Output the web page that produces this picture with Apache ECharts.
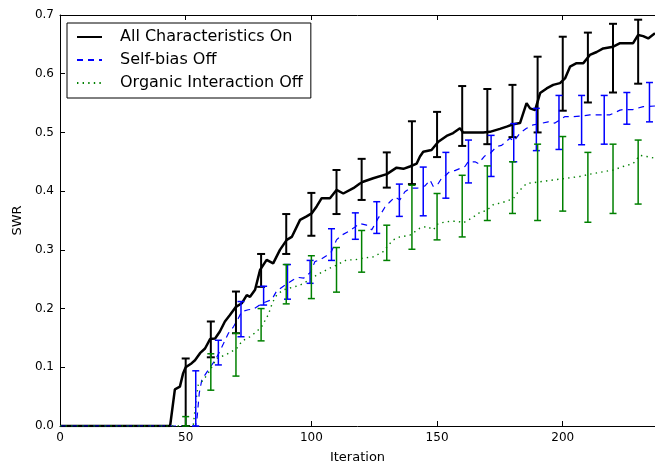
<!DOCTYPE html>
<html>
<head>
<meta charset="utf-8">
<script src="https://cdn.jsdelivr.net/npm/echarts@6/dist/echarts.min.js"></script>
<style>
html,body{margin:0;padding:0;background:#fff;}
#chart{width:655px;height:466px;}
</style>
</head>
<body>
<div id="chart"></div>
<script>
// ---- data ----
const seriesNames = ['All Characteristics On', 'Self-bias Off', 'Organic Interaction Off'];
const xTicks = [0, 50, 100, 150, 200];
const yTicks = [0.0, 0.1, 0.2, 0.3, 0.4, 0.5, 0.6, 0.7];

const allOn = [[0,0],[43.8,0],[45.7,0.0625],[47.7,0.067],[49,0.09],[50,0.10],[52.4,0.107],[53.7,0.112],[55.7,0.124],[57.7,0.132],[59.7,0.148],[61.7,0.149],[63.6,0.161],[65.6,0.178],[67.6,0.189],[70,0.203],[72.3,0.209],[74.3,0.223],[75.6,0.220],[77.6,0.232],[79.6,0.266],[82.2,0.283],[84.8,0.277],[87.5,0.30],[90.2,0.317],[92.2,0.322],[95.5,0.351],[98.1,0.357],[100.1,0.362],[102.1,0.374],[104.1,0.388],[107.4,0.388],[110,0.402],[112.7,0.396],[116.7,0.405],[119.3,0.413],[120.6,0.416],[124.6,0.422],[130,0.429],[133.9,0.44],[136.6,0.438],[139.2,0.442],[141.9,0.447],[143.2,0.459],[144.5,0.467],[147.8,0.47],[150.5,0.484],[153.8,0.494],[156.4,0.499],[159.1,0.507],[160.4,0.50],[168.4,0.5],[171,0.501],[175,0.506],[177.7,0.51],[180.3,0.514],[183,0.516],[185.6,0.55],[187,0.541],[189,0.538],[191,0.567],[193.6,0.575],[196.2,0.581],[198.9,0.584],[200.9,0.592],[202.9,0.612],[205.5,0.618],[208.2,0.618],[210.8,0.632],[213.5,0.637],[216.1,0.643],[220.1,0.646],[222.8,0.652],[228,0.652],[230,0.666],[232,0.664],[234,0.66],[236.7,0.669]];

const selfBiasOff = [[0,0],[53.8,0],[54.4,0.007],[55.4,0.056],[56.4,0.078],[57.7,0.087],[59.7,0.10],[61.7,0.112],[63.3,0.125],[65,0.14],[67,0.158],[69,0.169],[70.9,0.183],[72.3,0.195],[74.9,0.198],[76.9,0.199],[79,0.205],[81,0.21],[84.2,0.215],[86.2,0.23],[89.5,0.24],[92.8,0.249],[94.8,0.253],[97,0.252],[99.7,0.262],[101.4,0.28],[103.4,0.283],[106,0.29],[108,0.297],[110,0.317],[112,0.325],[114.7,0.331],[117.7,0.34],[119.3,0.345],[122,0.342],[124,0.334],[126.6,0.354],[129.3,0.373],[131.3,0.382],[133.3,0.39],[135.2,0.385],[137.2,0.399],[139.2,0.405],[142,0.405],[145.2,0.409],[147.2,0.419],[148.5,0.408],[150.5,0.413],[151.8,0.422],[153.5,0.427],[155.1,0.434],[157.1,0.435],[161.1,0.442],[162.4,0.45],[165.1,0.45],[166.4,0.447],[169,0.46],[171.3,0.465],[173.7,0.476],[175.7,0.478],[179,0.49],[180.6,0.485],[183,0.499],[185.6,0.507],[188.3,0.513],[191,0.515],[194.2,0.518],[196.9,0.516],[200.9,0.527],[204.2,0.527],[208,0.528],[210.8,0.53],[213.5,0.53],[218.8,0.53],[222.8,0.538],[224,0.539],[228,0.539],[232,0.544],[236.7,0.545]];

const organicOff = [[0,0],[53,0],[54,0.04],[55,0.07],[57,0.078],[59.7,0.095],[62.3,0.115],[66.3,0.122],[70.3,0.132],[72.5,0.145],[75.6,0.152],[78,0.16],[80.2,0.169],[82.9,0.19],[84.5,0.21],[86.2,0.223],[88.8,0.232],[91.5,0.235],[95.5,0.24],[99.4,0.249],[102.1,0.257],[104.7,0.263],[107.4,0.269],[110,0.274],[114,0.283],[117.3,0.283],[120.6,0.286],[124.6,0.288],[128.6,0.297],[130.6,0.308],[132.6,0.317],[135.2,0.322],[139.2,0.325],[143.2,0.337],[145.9,0.34],[148.5,0.334],[150.5,0.345],[153.8,0.348],[157.8,0.349],[160.4,0.346],[163.8,0.354],[167.1,0.364],[169.7,0.367],[172.4,0.377],[176.3,0.381],[180.3,0.387],[182.3,0.399],[185.6,0.413],[191,0.416],[196.2,0.419],[201.6,0.422],[206.8,0.425],[210.8,0.429],[216.1,0.433],[220.1,0.436],[224,0.442],[228,0.447],[230.7,0.461],[233.4,0.459],[236.7,0.456]];

// error bars: [x, low, high]
const allOnErr = [[50,0,0.115],[60,0.117,0.178],[70,0.158,0.229],[80,0.237,0.293],[90,0.293,0.361],[100,0.324,0.397],[110,0.361,0.436],[120,0.385,0.455],[130,0.406,0.466],[140,0.412,0.519],[150,0.458,0.535],[160,0.477,0.579],[170,0.480,0.574],[180,0.492,0.581],[190,0.50,0.629],[200,0.537,0.663],[210,0.551,0.670],[220,0.568,0.685],[230,0.583,0.692]];
const selfBiasErr = [[54,0,0.094],[63,0.104,0.146],[72,0.152,0.212],[81,0.206,0.238],[90.5,0.216,0.275],[99.5,0.243,0.282],[108,0.282,0.336],[117.5,0.318,0.363],[126,0.328,0.382],[135,0.357,0.412],[144.5,0.358,0.441],[153.5,0.388,0.466],[162.5,0.414,0.487],[171.5,0.425,0.495],[180.5,0.45,0.515],[189.5,0.469,0.541],[198.5,0.471,0.563],[207.5,0.479,0.563],[216.5,0.48,0.563],[225.5,0.514,0.568],[234.5,0.518,0.585]];
const organicErr = [[50,0,0.016],[60,0.061,0.123],[70,0.085,0.158],[80,0.145,0.200],[90,0.208,0.275],[100,0.217,0.29],[110,0.228,0.304],[120,0.262,0.333],[130,0.282,0.342],[140,0.301,0.41],[150,0.317,0.396],[160,0.322,0.427],[170,0.35,0.443],[180,0.362,0.45],[190,0.35,0.48],[200,0.366,0.493],[210,0.347,0.466],[220,0.362,0.48],[230,0.378,0.487]];

// ---- chart ----
const FONT = 'DejaVu Sans';
const chart = echarts.init(document.getElementById('chart'), null, {renderer: 'canvas'});

function errRender(color, lw, capHalf) {
  return function (params, api) {
    const x = api.value(0), lo = api.value(1), hi = api.value(2);
    const a = api.coord([x, lo]), b = api.coord([x, hi]);
    const st = {stroke: color, lineWidth: lw};
    return {
      type: 'group',
      children: [
        {type: 'line', shape: {x1: a[0], y1: a[1], x2: b[0], y2: b[1]}, style: st},
        {type: 'line', shape: {x1: a[0] - capHalf, y1: a[1], x2: a[0] + capHalf, y2: a[1]}, style: st},
        {type: 'line', shape: {x1: b[0] - capHalf, y1: b[1], x2: b[0] + capHalf, y2: b[1]}, style: st}
      ]
    };
  };
}

const XMAX = 236.7;
const axisCommon = {
  axisLine: {show: true, lineStyle: {color: '#000', width: 1}},
  axisTick: {show: true, inside: true, length: 5, lineStyle: {color: '#000'}},
  splitLine: {show: false}
};

const option = {
  backgroundColor: '#fff',
  animation: false,
  textStyle: {fontFamily: FONT},
  grid: {left: 60, top: 15, right: 0, bottom: 40, containLabel: false, outerBoundsMode: 'none'},
  legend: {
    show: true,
    orient: 'vertical',
    left: 67, top: 23,
    padding: [6, 8, 7, 9],
    itemWidth: 25, itemHeight: 12,
    itemGap: 7,
    borderColor: '#000', borderWidth: 1,
    backgroundColor: '#fff',
    itemStyle: {opacity: 0},
    textStyle: {fontFamily: FONT, fontSize: 16, color: '#000', padding: [0, 0, 0, 13]},
    data: seriesNames
  },
  xAxis: [
    Object.assign({
      type: 'value', min: 0, max: XMAX, interval: 50,
      axisLabel: {show: true, fontFamily: FONT, fontSize: 12, color: '#000', margin: 6, showMaxLabel: false,
        formatter: v => (xTicks.indexOf(v) >= 0 ? String(v) : '')},
      name: 'Iteration', nameLocation: 'middle', nameGap: 25,
      nameTextStyle: {fontFamily: FONT, fontSize: 13, color: '#000'}
    }, axisCommon),
    Object.assign({
      type: 'value', min: 0, max: XMAX, interval: 50, position: 'top',
      axisLabel: {show: false}
    }, axisCommon)
  ],
  yAxis: [
    Object.assign({
      type: 'value', min: 0, max: 0.7, interval: 0.1,
      axisLabel: {show: true, fontFamily: FONT, fontSize: 12, color: '#000', margin: 6,
        formatter: v => v.toFixed(1)},
      name: 'SWR', nameLocation: 'middle', nameGap: 32,
      nameTextStyle: {fontFamily: FONT, fontSize: 13, color: '#000'}
    }, axisCommon)
  ],
  series: [
    {name: seriesNames[0], type: 'line', data: allOn, symbol: 'none', z: 3,
      lineStyle: {color: '#000', width: 2.5}, itemStyle: {color: '#000'}},
    {name: seriesNames[1], type: 'line', data: selfBiasOff, symbol: 'none', z: 3,
      lineStyle: {color: '#0000ff', width: 1.2, type: [6, 5]}, itemStyle: {color: '#0000ff'}},
    {name: seriesNames[2], type: 'line', data: organicOff, symbol: 'none', z: 3,
      lineStyle: {color: '#008000', width: 1.4, type: [1.4, 4.2]}, itemStyle: {color: '#008000'}},
    {type: 'custom', data: allOnErr, renderItem: errRender('#000', 2, 4), z: 4, silent: true,
      encode: {x: 0, y: [1, 2]}},
    {type: 'custom', data: selfBiasErr, renderItem: errRender('#0000ff', 1.5, 3.5), z: 4, silent: true,
      encode: {x: 0, y: [1, 2]}},
    {type: 'custom', data: organicErr, renderItem: errRender('#008000', 1.5, 3.5), z: 4, silent: true,
      encode: {x: 0, y: [1, 2]}}
  ]
};
chart.setOption(option);
</script>
</body>
</html>
